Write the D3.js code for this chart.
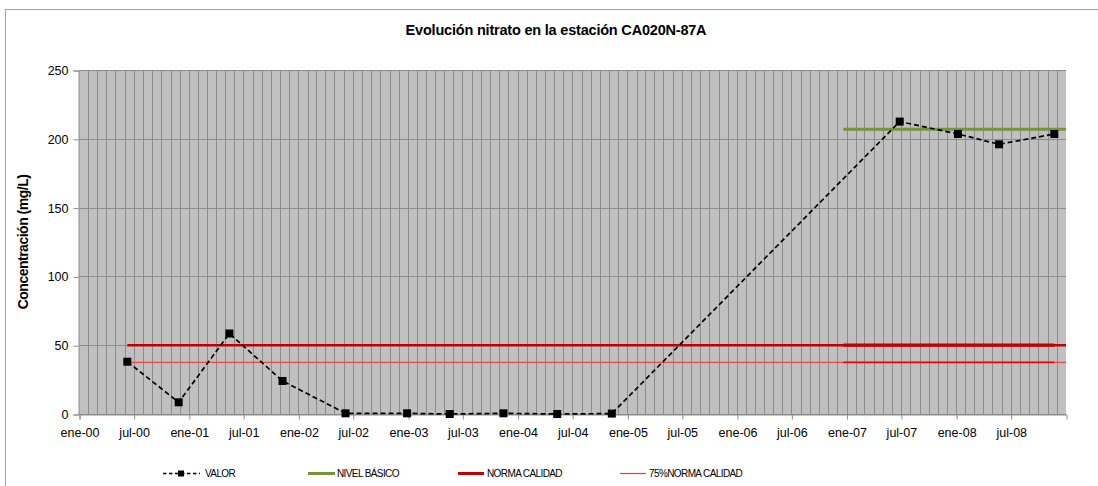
<!DOCTYPE html>
<html><head><meta charset="utf-8">
<script src="https://cdn.jsdelivr.net/npm/d3@7"></script>
<style>
html,body{margin:0;padding:0;background:#fff;}
svg text{font-family:"Liberation Sans",Arial,sans-serif;}
</style></head>
<body>
<svg id="c" width="1098" height="486"></svg>
<script>
// ---- data ----
const valorDates = ["2000-06-10","2000-11-28","2001-05-16","2001-11-09","2002-06-07","2002-12-29","2003-05-20","2003-11-15","2004-05-12","2004-11-10","2007-06-27","2008-01-07","2008-05-23","2008-11-23"];
const valorValues = [38,8.5,58.5,24,0.5,0.5,0,0.5,0,0.3,212.5,203.5,196,203.5];
const nivelDates = ["2006-12-21","2009-01-01"];
const nivelValues = [207,207];
const normaDates = ["2000-06-10","2009-01-01"];
const normaValues = [50,50];
const normaSegDates = ["2006-12-21","2008-11-23"];
const normaSegValues = [50,50];
const norma75Dates = ["2000-06-10","2009-01-01"];
const norma75Values = [37.5,37.5];
const norma75SegDates = ["2006-12-21","2008-11-23"];
const norma75SegValues = [37.5,37.5];
const yTicks = [0,50,100,150,200,250];
const monthNames = ["ene","feb","mar","abr","may","jun","jul","ago","sep","oct","nov","dic"];
const legendLabels = ["VALOR","NIVEL BÁSICO","NORMA CALIDAD","75%NORMA CALIDAD"];
const titleText = "Evolución nitrato en la estación CA020N-87A";
const yLabel = "Concentración (mg/L)";

// ---- setup ----
const parse = d3.timeParse("%Y-%m-%d");
const svg = d3.select("#c");
const L = 79, R = 1066, T = 70, B = 414;
const x = d3.scaleTime().domain([parse("2000-01-01"), parse("2009-01-01")]).range([L, R]);
const y = d3.scaleLinear().domain([0, 250]).range([B, T]);

// frame
svg.append("rect").attr("x",5.5).attr("y",9.5).attr("width",1200).attr("height",600)
  .attr("fill","#fff").attr("stroke","#a0a0a0").attr("stroke-width",1);

// title
svg.append("text").attr("x",556).attr("y",35).attr("text-anchor","middle")
  .attr("font-size",14.5).attr("font-weight","bold").attr("letter-spacing",-0.2).text(titleText);

// plot area
svg.append("rect").attr("x",L).attr("y",T).attr("width",R-L).attr("height",B-T).attr("fill","#c0c0c0");

// vertical monthly gridlines
const months = d3.timeMonth.range(parse("2000-02-01"), parse("2009-01-01"));
svg.append("g").selectAll("line").data(months).join("line")
  .attr("x1",d=>Math.round(x(d))+0.5).attr("x2",d=>Math.round(x(d))+0.5)
  .attr("y1",T).attr("y2",B).attr("stroke","#8c8c8c").attr("stroke-width",1);

// horizontal gridlines
svg.append("g").selectAll("line").data(yTicks).join("line")
  .attr("x1",L).attr("x2",R).attr("y1",d=>Math.round(y(d))+0.5).attr("y2",d=>Math.round(y(d))+0.5)
  .attr("stroke","#8c8c8c").attr("stroke-width",1);

// y axis
const yAxis = d3.axisLeft(y).tickValues(yTicks).tickSize(5).tickPadding(5);
const gy = svg.append("g").attr("transform",`translate(${L-0.5},0.5)`).call(yAxis);
gy.select(".domain").attr("stroke","#8c8c8c");
gy.selectAll(".tick line").attr("stroke","#8c8c8c");
gy.selectAll(".tick text").attr("font-size",12.5).attr("fill","#000").attr("font-family","Liberation Sans, Arial, sans-serif");

// x axis
const xTicks = d3.timeMonth.every(6).range(parse("2000-01-01"), parse("2009-01-01"));
const fmt = d => monthNames[d.getMonth()] + "-" + d3.timeFormat("%y")(d);
const xAxis = d3.axisBottom(x).tickValues(xTicks).tickFormat(fmt).tickSize(5).tickPadding(9);
const gx = svg.append("g").attr("transform",`translate(0.5,${B+0.5})`).call(xAxis);
gx.select(".domain").attr("stroke","#8c8c8c");
gx.selectAll(".tick line").attr("stroke","#8c8c8c");
gx.selectAll(".tick text").attr("font-size",12.5).attr("fill","#000").attr("font-family","Liberation Sans, Arial, sans-serif");

// y label
svg.append("text").attr("transform","translate(28,242) rotate(-90)").attr("text-anchor","middle")
  .attr("font-size",14).attr("font-weight","bold").attr("letter-spacing",-0.5).text(yLabel);

// series
const line = d3.line().x(d=>x(d[0])).y(d=>y(d[1]));
const mk = (ds, vs) => ds.map((d,i)=>[parse(d), vs[i]]);

svg.append("path").datum(mk(norma75Dates,norma75Values)).attr("d",line)
  .attr("fill","none").attr("stroke","#f04848").attr("stroke-width",1.3);
svg.append("path").datum(mk(norma75SegDates,norma75SegValues)).attr("d",line)
  .attr("fill","none").attr("stroke","#ff0000").attr("stroke-width",1.6);
svg.append("path").datum(mk(normaDates,normaValues)).attr("d",line)
  .attr("fill","none").attr("stroke","#c00000").attr("stroke-width",2.6);
svg.append("path").datum(mk(normaSegDates,normaSegValues)).attr("d",line)
  .attr("fill","none").attr("stroke","#c00000").attr("stroke-width",3.2);
svg.append("path").datum(mk(nivelDates,nivelValues)).attr("d",line)
  .attr("fill","none").attr("stroke","#77933c").attr("stroke-width",3);

const valor = mk(valorDates,valorValues);
svg.append("path").datum(valor).attr("d",line)
  .attr("fill","none").attr("stroke","#000").attr("stroke-width",1.7).attr("stroke-dasharray","5,3");
svg.append("g").selectAll("rect").data(valor).join("rect")
  .attr("x",d=>x(d[0])-4).attr("y",d=>y(d[1])-4).attr("width",8).attr("height",8).attr("fill","#000");

// legend
const lg = svg.append("g").attr("font-size",10).attr("letter-spacing",-0.6);
const ly = 473.5;
// VALOR
lg.append("line").attr("x1",163).attr("x2",200).attr("y1",ly).attr("y2",ly)
  .attr("stroke","#000").attr("stroke-width",1.5).attr("stroke-dasharray","3.5,2.5");
lg.append("rect").attr("x",178).attr("y",ly-3).attr("width",6).attr("height",6).attr("fill","#000");
lg.append("text").attr("x",205).attr("y",ly+3.5).text(legendLabels[0]);
// NIVEL
lg.append("line").attr("x1",308).attr("x2",335).attr("y1",ly).attr("y2",ly).attr("stroke","#77933c").attr("stroke-width",3);
lg.append("text").attr("x",337).attr("y",ly+3.5).text(legendLabels[1]);
// NORMA
lg.append("line").attr("x1",458).attr("x2",484).attr("y1",ly).attr("y2",ly).attr("stroke","#c00000").attr("stroke-width",3);
lg.append("text").attr("x",487).attr("y",ly+3.5).text(legendLabels[2]);
// 75%
lg.append("line").attr("x1",620).attr("x2",646).attr("y1",ly).attr("y2",ly).attr("stroke","#ff3030").attr("stroke-width",1.2);
lg.append("text").attr("x",649).attr("y",ly+3.5).text(legendLabels[3]);
</script>
</body></html>
